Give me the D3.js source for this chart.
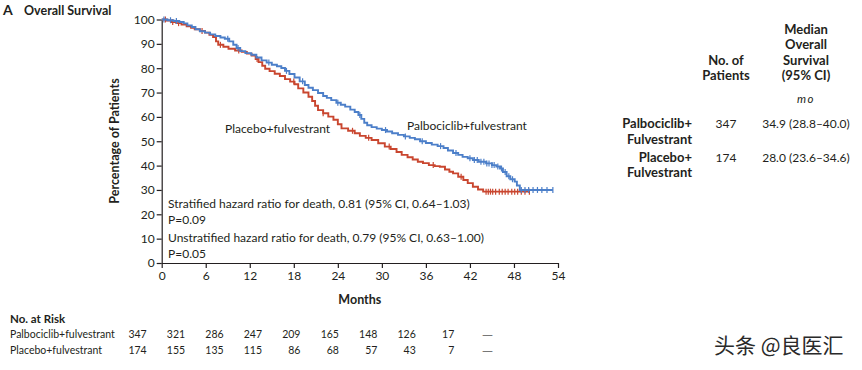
<!DOCTYPE html>
<html><head><meta charset="utf-8">
<script src="https://cdn.jsdelivr.net/npm/d3@7"></script>
<style>
html,body{margin:0;padding:0;background:#fff;}
svg{display:block;font-family:Lato,"Open Sans",sans-serif;}
</style></head>
<body>
<svg id="chart" width="862" height="370"></svg>
<script>
// ---- data ----
const xTicks = [0,6,12,18,24,30,36,42,48,54];
const yTicks = [0,10,20,30,40,50,60,70,80,90,100];

const palboTimes = [0,0.8,1.6,2.4,3.0,3.5,4.1,4.6,5.2,5.9,6.6,7.3,8.0,8.6,9.2,9.75,10.2,10.7,11.4,12.2,12.9,13.6,14.3,15.0,15.7,16.3,16.8,17.4,18.1,18.8,19.5,20.0,20.6,21.3,22.0,22.5,23.1,23.8,24.4,25.0,25.7,26.3,26.8,27.2,27.6,28.0,28.6,29.3,30.0,30.7,31.4,32.2,33.0,33.8,34.5,35.2,36.0,36.8,37.6,38.4,39.0,39.7,40.4,41.0,41.7,42.4,43.2,44.2,45.0,45.6,46.1,46.5,47.0,47.5,48.1,48.4,48.8,53.3];
const palboSurv  = [100,99.7,99.4,99.0,98.4,97.6,96.9,96.0,95.2,94.6,93.9,93.2,92.6,92.1,91.0,89.6,88.3,87.0,86.2,85.5,84.4,83.2,82.3,81.4,80.8,80.1,78.9,77.6,76.2,74.6,73.1,72.0,71.0,69.8,68.6,67.8,66.9,65.8,65.0,64.2,63.0,62.0,60.8,59.2,57.6,56.6,55.8,55.2,54.6,54.0,53.3,52.6,52.0,51.4,50.8,50.0,49.3,48.6,48.0,47.2,46.2,45.2,44.4,43.6,43.0,42.3,41.6,40.9,40.2,39.6,38.8,37.4,35.6,34.4,33.4,31.8,30.0,30.0];
const palboCensor = [0.3,1.2,2.0,9.0,10.4,14.6,17.0,19.2,24.0,27.0,30.5,33.2,35.5,38.0,40.1,42.0,42.6,43.0,43.5,43.9,44.3,44.6,45.0,45.3,45.8,46.3,46.8,47.3,47.8,49.0,49.5,50.0,50.6,51.2,51.8,52.5,53.3];

const placeboTimes = [0,0.7,1.4,2.0,2.7,3.4,4.0,4.5,5.2,5.9,6.5,7.0,7.4,7.7,8.4,9.1,10.0,10.9,11.6,12.25,12.8,13.2,13.7,14.1,14.7,15.4,16.1,16.8,17.5,18.1,18.6,19.3,20.0,20.5,20.9,21.3,22.0,22.7,23.4,24.0,24.5,25.4,26.3,27.0,27.8,28.6,29.5,30.4,31.2,32.0,32.7,33.5,34.2,34.9,35.6,36.4,37.2,37.9,38.6,39.2,39.7,40.4,41.1,41.7,42.4,43.1,43.8,50.1];
const placeboSurv  = [100,99.6,99.0,98.5,97.9,97.2,96.6,96.0,95.3,94.6,93.7,92.8,91.0,89.6,88.8,88.0,87.3,86.7,86.0,85.2,83.8,82.5,81.0,79.8,78.8,77.7,76.8,75.5,74.5,73.4,71.7,70.0,68.3,66.5,64.6,62.8,61.5,60.1,58.8,57.0,55.3,54.3,53.3,52.2,51.4,50.5,49.2,47.8,46.8,45.6,44.4,43.4,42.5,41.6,41.0,40.2,39.8,39.5,38.4,37.5,36.8,35.4,34.1,32.8,31.3,30.2,29.3,29.3];
const placeboCensor = [0.5,1.5,2.3,5.5,8.0,10.5,13.0,18.0,22.0,26.0,28.2,31.0,37.0,40.8,44.2,44.5,44.8,45.1,45.5,46.0,46.4,46.8,47.2,47.7,48.1,48.5,49.0,49.5,50.1];

const seriesNames = ["Palbociclib+fulvestrant","Placebo+fulvestrant"];
const seriesColors = ["#4c7fc9","#c9462f"];
const atRiskPalbo = ["347","321","286","247","209","165","148","126","17","\u2014"];
const atRiskPlacebo = ["174","155","135","115","86","68","57","43","7","\u2014"];

const tableArms = [["Palbociclib+","Fulvestrant"],["Placebo+","Fulvestrant"]];
const tableN = ["347","174"];
const tableMedian = ["34.9 (28.8\u201340.0)","28.0 (23.6\u201334.6)"];

// ---- drawing ----
const svg = d3.select("#chart");
const ink = "#231f20";
const x = d3.scaleLinear().domain([0,54]).range([161.7,558]);
const y = d3.scaleLinear().domain([0,100]).range([263,19.5]);

// title
svg.append("text").attr("x",3).attr("y",15).attr("font-size",14).attr("font-weight","bold").attr("fill",ink).text("A");
svg.append("text").attr("x",24).attr("y",15).attr("font-size",12.5).attr("font-weight","bold").attr("fill",ink).text("Overall Survival");

// axes
const yAxis = d3.axisLeft(y).tickValues(yTicks).tickSize(5).tickSizeOuter(0).tickPadding(2);
const gy = svg.append("g").attr("transform","translate(161.7,0)").call(yAxis);
const xAxis = d3.axisBottom(x).tickValues(xTicks).tickSize(5).tickSizeOuter(0).tickPadding(3);
const gx = svg.append("g").attr("transform","translate(0,263)").call(xAxis);
[gx,gy].forEach(g=>{
  g.selectAll("path,line").attr("stroke",ink).attr("stroke-width",1.2);
  g.selectAll("text").attr("font-size",12).attr("fill",ink).attr("font-family","Lato,sans-serif");
});

svg.append("text").attr("transform","translate(119,141) rotate(-90)").attr("text-anchor","middle")
  .attr("font-size",12.5).attr("font-weight","bold").attr("fill",ink).text("Percentage of Patients");
svg.append("text").attr("x",x(27)).attr("y",304).attr("text-anchor","middle")
  .attr("font-size",12.5).attr("font-weight","bold").attr("fill",ink).text("Months");

// curves
const series = [
  {t:palboTimes, s:palboSurv, c:palboCensor},
  {t:placeboTimes, s:placeboSurv, c:placeboCensor}
];
const line = d3.line().x(d=>x(d[0])).y(d=>y(d[1])).curve(d3.curveStepAfter);
const bis = d3.bisector(d=>d).right;
[1,0].forEach(i=>{
  const sr = series[i];
  const pts = sr.t.map((t,k)=>[t,sr.s[k]]);
  svg.append("path").datum(pts).attr("d",line).attr("fill","none")
    .attr("stroke",seriesColors[i]).attr("stroke-width",1.9);
  const cens = sr.c.map(t=>{const k=Math.max(0,bis(sr.t,t)-1); return [t,sr.s[k]];});
  svg.append("g").selectAll("line").data(cens).join("line")
    .attr("x1",d=>x(d[0])).attr("x2",d=>x(d[0]))
    .attr("y1",d=>y(d[1])-3).attr("y2",d=>y(d[1])+3)
    .attr("stroke",seriesColors[i]).attr("stroke-width",1.2);
});

// curve labels
svg.append("text").attr("x",225).attr("y",133).attr("font-size",12).attr("fill",ink).text("Placebo+fulvestrant");
svg.append("text").attr("x",407).attr("y",130).attr("font-size",12).attr("fill",ink).text("Palbociclib+fulvestrant");

// HR text
const hr = [
  ["Stratified hazard ratio for death, 0.81 (95% CI, 0.64\u20131.03)",208],
  ["P=0.09",224],
  ["Unstratified hazard ratio for death, 0.79 (95% CI, 0.63\u20131.00)",242],
  ["P=0.05",258]
];
hr.forEach(d=>svg.append("text").attr("x",168).attr("y",d[1]).attr("font-size",12).attr("fill",ink).text(d[0]));

// right table
const colN = 726, colM = 806, colArm = 692;
const hdr = svg.append("g").attr("font-size",13).attr("font-weight","bold").attr("fill",ink).attr("text-anchor","middle");
[["Median",33.5],["Overall",49],["Survival",64.5],["(95% CI)",80]].forEach(d=>hdr.append("text").attr("x",colM).attr("y",d[1]).text(d[0]));
[["No. of",64.5],["Patients",80]].forEach(d=>hdr.append("text").attr("x",colN).attr("y",d[1]).text(d[0]));
svg.append("text").attr("x",colM).attr("y",103).attr("text-anchor","middle").attr("font-size",11.5).attr("font-style","italic").attr("letter-spacing",1.5).attr("fill",ink).text("mo");
const rowY = [128,161.5];
tableArms.forEach((a,i)=>{
  svg.append("text").attr("x",colArm).attr("y",rowY[i]).attr("text-anchor","end").attr("font-size",13).attr("font-weight","bold").attr("fill",ink).text(a[0]);
  svg.append("text").attr("x",colArm).attr("y",rowY[i]+15.5).attr("text-anchor","end").attr("font-size",13).attr("font-weight","bold").attr("fill",ink).text(a[1]);
  svg.append("text").attr("x",colN).attr("y",rowY[i]).attr("text-anchor","middle").attr("font-size",12).attr("fill",ink).text(tableN[i]);
  svg.append("text").attr("x",colM).attr("y",rowY[i]).attr("text-anchor","middle").attr("font-size",12).attr("fill",ink).text(tableMedian[i]);
});

// risk table
svg.append("text").attr("x",10).attr("y",323).attr("font-size",11.5).attr("font-weight","bold").attr("fill",ink).text("No. at Risk");
const col = d3.scaleLinear().domain([0,9]).range([146.7,492.7]);
[atRiskPalbo,atRiskPlacebo].forEach((row,i)=>{
  const yy = 338 + i*15.5;
  svg.append("text").attr("x",10).attr("y",yy).attr("font-size",10.5).attr("fill",ink).text(seriesNames[i]);
  svg.append("g").selectAll("text").data(row).join("text")
    .attr("x",(d,k)=>col(k)).attr("y",yy).attr("text-anchor","end").attr("font-size",10.5)
    .attr("font-family",d=>d==="\u2014" ? "'Open Sans',sans-serif" : null)
    .attr("fill",d=>d==="\u2014" ? "#777" : ink).text(d=>d);
});

// watermark
svg.append("text").attr("x",714).attr("y",353).attr("font-size",21).attr("font-family","'Noto Sans CJK SC',sans-serif").attr("fill","#2a2a2a").text("头条 @良医汇");
</script>
</body></html>
